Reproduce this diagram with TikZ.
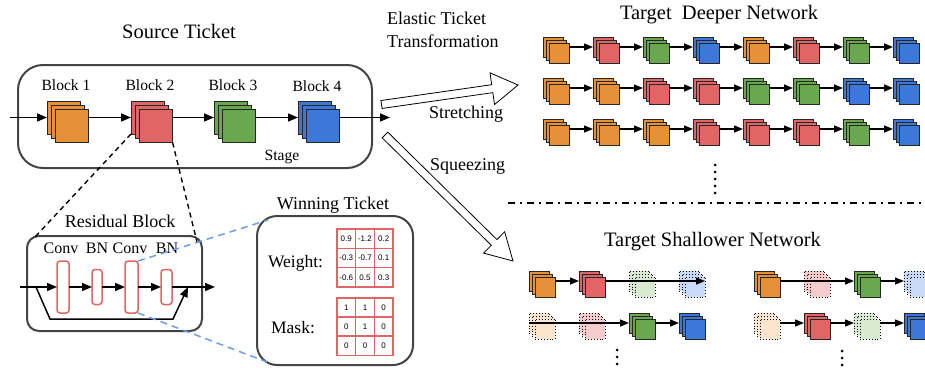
\documentclass[tikz,border=0pt]{standalone}
\usepackage{fontspec}
\setmainfont{Liberation Serif}
\newfontfamily\numfont{Liberation Sans}
\usetikzlibrary{arrows.meta,calc}
\definecolor{cO}{HTML}{E69138}
\definecolor{cR}{HTML}{E06666}
\definecolor{cG}{HTML}{6AA84F}
\definecolor{cB}{HTML}{3C78D8}
\definecolor{fO}{HTML}{FCE5CD}
\definecolor{fR}{HTML}{F4CCCC}
\definecolor{fG}{HTML}{D9EAD3}
\definecolor{fB}{HTML}{C9DAF8}
\definecolor{boxgray}{HTML}{444444}
\definecolor{dblue}{HTML}{6D9EEB}
\newcommand\stk[7]{%
  \node[#7,fill=#4,minimum size=#5pt,anchor=north west] (#1-b) at ({#2},{#3}) {};
  \node[#7,fill=#4,minimum size=#5pt,anchor=north west] (#1-m) at ({#2+#6},{#3+#6}) {};
  \node[#7,fill=#4,minimum size=#5pt,anchor=north west] (#1-f) at ({#2+2*#6},{#3+2*#6}) {};}
\tikzset{
  sq/.style={draw=black!85,line width=1pt,inner sep=0pt,outer sep=0pt},
  fsq/.style={draw=black,dotted,line width=0.9pt,inner sep=0pt,outer sep=0pt},
  bigbox/.style={draw=boxgray,line width=2pt,inner sep=0pt,outer sep=0pt,anchor=north west},
  layer/.style={draw=cR,line width=1.5pt,rounded corners=3pt,fill=white,inner sep=0pt,outer sep=0pt},
  arr/.style={line width=1.5pt,-{Triangle[length=10pt,width=8pt]}},
  sarr/.style={line width=1.4pt,-{Triangle[length=9pt,width=7pt]}},
  kdash/.style={line width=1.4pt,dash pattern=on 5pt off 4pt},
  bdash/.style={draw=dblue,line width=1.5pt,dash pattern=on 7pt off 5pt},
  hollow/.style={draw=black,line width=0.8pt,fill=white,line join=miter},
  ttl/.style={font=\fontsize{20.5}{24}\selectfont,anchor=base,inner sep=0pt},
  lbl/.style={font=\fontsize{18}{22}\selectfont,anchor=base,inner sep=0pt},
  blk/.style={font=\fontsize{15.6}{19}\selectfont,anchor=base,inner sep=0pt},
  cell/.style={draw=cR,line width=1.3pt,minimum width=18.67pt,minimum height=19.3pt,inner sep=0pt,font=\numfont\fontsize{8}{9}\selectfont},
}
\begin{document}
\begin{tikzpicture}[x=1pt,y=-1pt]
\useasboundingbox (0,0) rectangle (925,367);
% boxes
\node[bigbox,rounded corners=25pt,minimum width=354pt,minimum height=103pt] (srcbox) at (18,65) {};
\node[bigbox,rounded corners=12pt,minimum width=175pt,minimum height=95pt] (resbox) at (27,236) {};
\node[bigbox,rounded corners=20pt,minimum width=156pt,minimum height=149pt] (winbox) at (257,216) {};
% titles
\node[ttl] (tsrc) at (179,38) {Source Ticket};
\node[ttl] (tdeep) at (719,19) {Target\ \ Deeper Network};
\node[ttl] (tshal) at (712.5,246) {Target Shallower Network};
\node[lbl,anchor=base west] (tel1) at (387,24) {Elastic Ticket};
\node[lbl,anchor=base west] (tel2) at (387,47) {Transformation};
\node[lbl] (tstr) at (466,118) {Stretching};
\node[lbl] (tsqz) at (467.5,170) {Squeezing};
\node[lbl] (tres) at (120,227) {Residual Block};
\node[lbl] (twin) at (333,209) {Winning Ticket};
\node[lbl,font=\fontsize{17.5}{21}\selectfont] (twt) at (295.5,267) {Weight:};
\node[lbl,font=\fontsize{17.5}{21}\selectfont] (tmask) at (293,333) {Mask:};
% source blocks
\stk{src1}{47}{101}{cO}{33}{4.3}{sq}
\stk{src2}{131}{101}{cR}{33}{4.3}{sq}
\stk{src3}{214}{101}{cG}{33}{4.3}{sq}
\stk{src4}{298}{101}{cB}{33}{4.3}{sq}
\node[blk] (l1) at (66,90) {Block 1};
\node[blk] (l2) at (150,90) {Block 2};
\node[blk] (l3) at (233,90) {Block 3};
\node[blk] (l4) at (317,91) {Block 4};
\node[blk] (lst) at (282,160.7) {Stage};
\coordinate (sin) at (10,117.5);
\coordinate (sout) at (390,117.5);
\draw[arr] (sin) -- (src1-b.west);
\draw[arr] (src1-b.center -| src1-f.east) -- (src2-b.west);
\draw[arr] (src2-b.center -| src2-f.east) -- (src3-b.west);
\draw[arr] (src3-b.center -| src3-f.east) -- (src4-b.west);
\draw[arr] (src4-b.center -| src4-f.east) -- (sout);
% zoom lines
\coordinate (rl) at (35,237);
\coordinate (rr) at (197,242);
\draw[kdash] (src2-b.south west) -- (rl);
\draw[kdash] (src2-f.south east) -- (rr);
% residual block
\node[layer,minimum width=12pt,minimum height=52pt] (conv1) at (63,287) {};
\node[layer,minimum width=10pt,minimum height=35pt] (bn1) at (97,287) {};
\node[layer,minimum width=13pt,minimum height=52pt] (conv2) at (131.5,287) {};
\node[layer,minimum width=11pt,minimum height=35pt] (bn2) at (166.5,287) {};
\node[blk,font=\fontsize{16}{19}\selectfont] (lc1) at (61,253) {Conv};
\node[blk,font=\fontsize{16}{19}\selectfont] (lb1) at (97,253) {BN};
\node[blk,font=\fontsize{16}{19}\selectfont] (lc2) at (130,253) {Conv};
\node[blk,font=\fontsize{16}{19}\selectfont] (lb2) at (167,253) {BN};
\coordinate (rin) at (20,287);
\coordinate (rout) at (215,287);
\coordinate (rs) at (36,287);
\coordinate (rc1) at (50,319);
\coordinate (rc2) at (173,319);
\coordinate (re) at (188,287);
\draw[arr] (rin) -- (conv1.west);
\draw[arr] (conv1.east) -- (bn1.west);
\draw[arr] (bn1.east) -- (conv2.west);
\draw[arr] (conv2.east) -- (bn2.west);
\draw[arr] (bn2.east) -- (rout);
\draw[arr] (rs) -- (rc1) -- (rc2) -- (re);
\coordinate (wt1) at (268,220);
\coordinate (wt2) at (267,362);
\draw[bdash] (conv2.north east) -- (wt1);
\draw[bdash] (conv2.south east) -- (wt2);
% grids
\foreach \v [count=\i from 0, evaluate=\i as \cc using {int(mod(\i,3))}, evaluate=\i as \rr using {int(\i/3)}] in {0.9,-1.2,0.2,-0.3,-0.7,0.1,-0.6,0.5,0.3}
  \node[cell] (w-\rr-\cc) at ({346.3+18.67*\cc},{238.7+19.3*\rr}) {\v};
\foreach \v [count=\i from 0, evaluate=\i as \cc using {int(mod(\i,3))}, evaluate=\i as \rr using {int(\i/3)}] in {1,1,0,0,1,0,0,0,0}
  \node[cell] (m-\rr-\cc) at ({346.3+18.67*\cc},{307.5+19*\rr}) {\v};
% big hollow arrows
\draw[hollow] (382.07,108.46) -- (492.83,92.64) -- (494.52,104.52) -- (518,85) -- (490.0,72.84) -- (491.69,84.72) -- (380.93,100.54) -- cycle;
\draw[hollow] (382.19,137.85) -- (491.30,245.26) -- (483.59,253.10) -- (513,261) -- (504.63,231.72) -- (496.92,239.56) -- (387.81,132.15) -- cycle;
% deeper network
\foreach \row/\ytop/\cols in {1/37/{O,R,G,B,O,R,G,B}, 2/78/{O,O,R,R,G,G,B,B}, 3/119/{O,O,O,R,R,R,G,B}} {
  \foreach \c [count=\k from 0] in \cols { \stk{d\row-\k}{543+50*\k}{\ytop}{c\c}{20}{3}{sq} }
  \foreach \k [evaluate=\k as \kn using {int(\k+1)}] in {0,...,6}
    \draw[sarr] (d\row-\k-b.center -| d\row-\k-f.east) -- (d\row-\kn-b.west);
}
\foreach \yy in {165,172,179,186,193} \fill (715,\yy) circle (1.5pt);
% separator
\coordinate (sep1) at (508,203);
\coordinate (sep2) at (925,203);
\draw[line width=1.5pt,dash pattern=on 7pt off 5pt on 1.5pt off 5.5pt] (sep1) -- (sep2);
% shallower network
\stk{s1a}{529}{271}{cO}{20}{3}{sq}
\stk{s1b}{579}{271}{cR}{20}{3}{sq}
\stk{s1c}{629}{271}{fG}{20}{3}{fsq}
\stk{s1d}{679}{271}{fB}{20}{3}{fsq}
\stk{s2a}{529}{313}{fO}{20}{3}{fsq}
\stk{s2b}{579}{313}{fR}{20}{3}{fsq}
\stk{s2c}{629}{313}{cG}{20}{3}{sq}
\stk{s2d}{679}{313}{cB}{20}{3}{sq}
\stk{s3a}{754}{271}{cO}{20}{3}{sq}
\stk{s3b}{804}{271}{fR}{20}{3}{fsq}
\stk{s3c}{854}{271}{cG}{20}{3}{sq}
\stk{s3d}{904}{271}{fB}{20}{3}{fsq}
\stk{s4a}{754}{313}{fO}{20}{3}{fsq}
\stk{s4b}{804}{313}{cR}{20}{3}{sq}
\stk{s4c}{854}{313}{fG}{20}{3}{fsq}
\stk{s4d}{904}{313}{cB}{20}{3}{sq}
\draw[sarr] (s1a-b.center -| s1a-f.east) -- (s1b-b.west);
\draw[sarr] (s1b-b.center -| s1b-f.east) -- (s1d-b.center -| s1d-f.east);
\draw[sarr] (s2a-b.west) -- (s2c-b.west);
\draw[sarr] (s2c-b.center -| s2c-f.east) -- (s2d-b.west);
\draw[sarr] (s3a-b.center -| s3a-f.east) -- (s3c-b.west);
\draw[sarr] (s3c-b.center -| s3c-f.east) -- (s3d-b.west);
\draw[sarr] (s4a-b.center -| s4a-f.east) -- (s4b-b.west);
\draw[sarr] (s4b-b.center -| s4b-f.east) -- (s4c-b.west);
\draw[sarr] (s4c-b.center -| s4c-f.east) -- (s4d-b.west);
\foreach \yy in {350,357,364} \fill (617,\yy) circle (1.5pt);
\foreach \yy in {351,358,365} \fill (842,\yy) circle (1.5pt);
\end{tikzpicture}
\end{document}
